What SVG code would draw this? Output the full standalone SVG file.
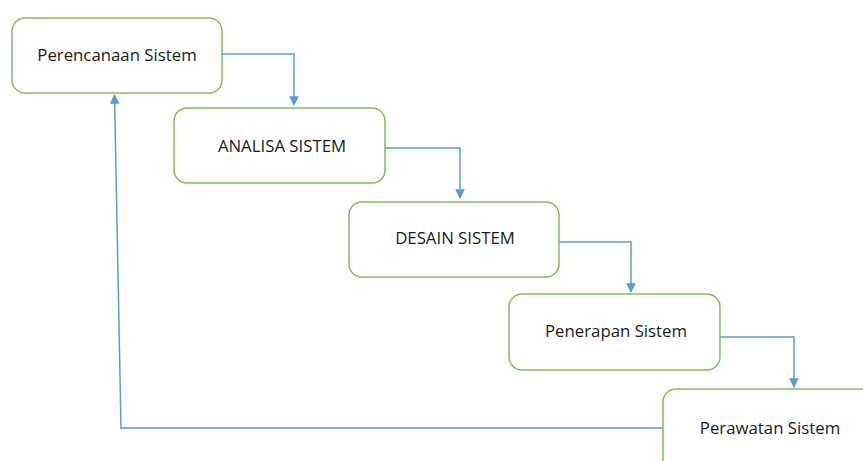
<svg xmlns="http://www.w3.org/2000/svg" width="863" height="461" viewBox="0 0 863 461">
  <style>
    .box { fill: #ffffff; stroke: #7fbf55; stroke-width: 1.5; }
    .lbl { font-family: "Open Sans", "Liberation Sans", sans-serif; font-size: 16.8px; fill: #1a1a1a; text-anchor: middle; }
    .conn { fill: none; stroke: #5b9bd5; stroke-width: 1.5; }
  </style>
  <defs>
    <marker id="arrow" viewBox="0 0 10 10" refX="9" refY="5" markerWidth="6.5" markerHeight="7" markerUnits="strokeWidth" orient="auto">
      <path d="M0,0 L10,5 L0,10 Z" fill="#5b9bd5"/>
    </marker>
  </defs>
  <rect width="863" height="461" fill="#ffffff"/>

  <g id="connectors">
    <path class="conn" d="M222,54 H294 V105" marker-end="url(#arrow)"/>
    <path class="conn" d="M385,148 H460 V198" marker-end="url(#arrow)"/>
    <path class="conn" d="M559,242 H631 V292" marker-end="url(#arrow)"/>
    <path class="conn" d="M720,337 H794 V387" marker-end="url(#arrow)"/>
    <path class="conn" d="M663,428 H121 L114.5,95" marker-end="url(#arrow)"/>
  </g>

  <g id="perencanaan">
    <rect class="box" x="12" y="18" width="210" height="75" rx="13"/>
    <text class="lbl" x="117" y="61">Perencanaan Sistem</text>
  </g>
  <g id="analisa">
    <rect class="box" x="174" y="108" width="211" height="75" rx="13"/>
    <text class="lbl" x="282" y="152">ANALISA SISTEM</text>
  </g>
  <g id="desain">
    <rect class="box" x="349" y="202" width="210" height="75" rx="13"/>
    <text class="lbl" x="455" y="244">DESAIN SISTEM</text>
  </g>
  <g id="penerapan">
    <rect class="box" x="509" y="294" width="211" height="76" rx="13"/>
    <text class="lbl" x="616" y="337">Penerapan Sistem</text>
  </g>
  <g id="perawatan">
    <rect class="box" x="663" y="389" width="230" height="90" rx="13"/>
    <text class="lbl" x="770" y="434">Perawatan Sistem</text>
  </g>
</svg>
